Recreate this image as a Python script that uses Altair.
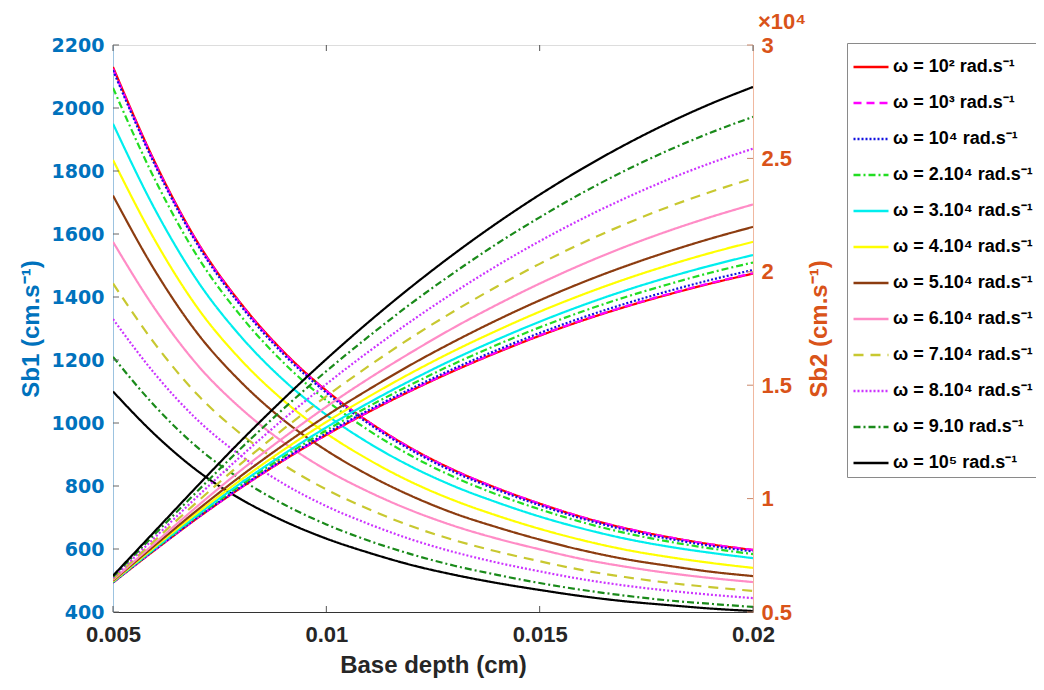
import altair as alt
import pandas as pd

# ---------------- data ----------------
depth = [0.005, 0.006, 0.007, 0.008, 0.009, 0.010, 0.011, 0.012,
         0.013, 0.014, 0.015, 0.016, 0.017, 0.018, 0.019, 0.020]

series = ["ω = 10² rad.s⁻¹", "ω = 10³ rad.s⁻¹", "ω = 10⁴ rad.s⁻¹",
          "ω = 2.10⁴ rad.s⁻¹", "ω = 3.10⁴ rad.s⁻¹", "ω = 4.10⁴ rad.s⁻¹",
          "ω = 5.10⁴ rad.s⁻¹", "ω = 6.10⁴ rad.s⁻¹", "ω = 7.10⁴ rad.s⁻¹",
          "ω = 8.10⁴ rad.s⁻¹", "ω = 9.10 rad.s⁻¹", "ω = 10⁵ rad.s⁻¹"]

# Sb1 (cm/s), left axis
sb1_1e2 = [2130, 1823, 1570, 1379, 1226, 1103, 1003, 919, 850, 793, 744, 701, 666, 638, 615, 597]
sb1_1e3 = [2125, 1819, 1567, 1376, 1223, 1101, 1002, 918, 849, 793, 744, 701, 666, 638, 615, 597]
sb1_1e4 = [2120, 1814, 1562, 1371, 1218, 1096, 997, 913, 844, 788, 739, 696, 661, 633, 610, 592]
sb1_2e4 = [2064, 1768, 1524, 1339, 1191, 1072, 976, 895, 828, 773, 726, 685, 651, 624, 602, 584]
sb1_3e4 = [1950, 1674, 1447, 1274, 1136, 1026, 936, 861, 799, 748, 703, 665, 633, 608, 588, 571]
sb1_4e4 = [1835, 1576, 1362, 1200, 1071, 967, 883, 812, 754, 706, 664, 628, 598, 575, 556, 540]
sb1_5e4 = [1722, 1480, 1281, 1130, 1009, 913, 834, 768, 713, 669, 630, 596, 568, 547, 528, 514]
sb1_6e4 = [1575, 1359, 1181, 1046, 938, 851, 781, 722, 673, 633, 599, 568, 544, 524, 508, 495]
sb1_7e4 = [1443, 1248, 1087, 965, 867, 789, 726, 672, 628, 592, 561, 533, 511, 493, 479, 467]
sb1_8e4 = [1330, 1153, 1007, 896, 807, 736, 679, 630, 590, 557, 529, 504, 484, 468, 455, 444]
sb1_9e4 = [1210, 1051, 920, 821, 742, 678, 626, 583, 547, 518, 492, 470, 452, 437, 426, 416]
sb1_1e5 = [1100, 961, 846, 758, 689, 633, 588, 549, 518, 492, 470, 450, 434, 422, 411, 403]

# Sb2 (x 10^4 cm/s), right axis
sb2_1e2 = [0.630, 0.776, 0.917, 1.048, 1.169, 1.281, 1.383, 1.477, 1.564, 1.644, 1.718, 1.785, 1.845, 1.899, 1.948, 1.992]
sb2_1e3 = [0.630, 0.777, 0.918, 1.049, 1.170, 1.282, 1.385, 1.479, 1.566, 1.646, 1.720, 1.787, 1.847, 1.901, 1.950, 1.994]
sb2_1e4 = [0.631, 0.778, 0.920, 1.052, 1.174, 1.288, 1.391, 1.486, 1.574, 1.655, 1.730, 1.798, 1.859, 1.914, 1.964, 2.008]
sb2_2e4 = [0.632, 0.781, 0.926, 1.060, 1.185, 1.301, 1.407, 1.504, 1.595, 1.678, 1.755, 1.825, 1.888, 1.944, 1.996, 2.041]
sb2_3e4 = [0.633, 0.784, 0.931, 1.069, 1.196, 1.314, 1.423, 1.523, 1.616, 1.701, 1.780, 1.852, 1.917, 1.975, 2.027, 2.074]
sb2_4e4 = [0.635, 0.790, 0.941, 1.083, 1.215, 1.338, 1.450, 1.555, 1.652, 1.741, 1.824, 1.899, 1.967, 2.028, 2.083, 2.132]
sb2_5e4 = [0.638, 0.797, 0.953, 1.100, 1.237, 1.365, 1.482, 1.592, 1.693, 1.787, 1.874, 1.953, 2.024, 2.088, 2.146, 2.198]
sb2_6e4 = [0.641, 0.807, 0.970, 1.125, 1.269, 1.405, 1.530, 1.646, 1.755, 1.855, 1.948, 2.033, 2.110, 2.179, 2.241, 2.297]
sb2_7e4 = [0.645, 0.819, 0.990, 1.154, 1.307, 1.451, 1.585, 1.711, 1.827, 1.935, 2.035, 2.127, 2.210, 2.285, 2.352, 2.412]
sb2_8e4 = [0.650, 0.832, 1.013, 1.187, 1.351, 1.505, 1.649, 1.784, 1.910, 2.027, 2.135, 2.234, 2.324, 2.406, 2.479, 2.543]
sb2_9e4 = [0.655, 0.847, 1.037, 1.222, 1.397, 1.562, 1.716, 1.862, 1.997, 2.124, 2.240, 2.348, 2.446, 2.534, 2.613, 2.683]
sb2_1e5 = [0.660, 0.860, 1.060, 1.255, 1.440, 1.615, 1.780, 1.935, 2.080, 2.215, 2.340, 2.455, 2.560, 2.655, 2.740, 2.815]

left_ticks = [400, 600, 800, 1000, 1200, 1400, 1600, 1800, 2000, 2200]
right_ticks = [0.5, 1, 1.5, 2, 2.5, 3]
x_ticks = [0.005, 0.01, 0.015, 0.02]

# ---------------- styles ----------------
colors = ["#ff0000", "#ff00ff", "#1010e0", "#22dd22", "#00eeee", "#ffff00",
          "#8c3c10", "#ff8cc6", "#c8c830", "#cc33ff", "#1a8a1a", "#000000"]
dashes = [[1, 0], [8, 5], [2, 2], [7, 3, 2, 3], [1, 0], [1, 0],
          [1, 0], [1, 0], [10, 7], [2, 2], [7, 3, 2, 3], [1, 0]]

BLUE = "#0072BD"
ORANGE = "#D95319"
FONT_N = "Liberation Sans, Arial, sans-serif"

sb1_all = [sb1_1e2, sb1_1e3, sb1_1e4, sb1_2e4, sb1_3e4, sb1_4e4,
           sb1_5e4, sb1_6e4, sb1_7e4, sb1_8e4, sb1_9e4, sb1_1e5]
sb2_all = [sb2_1e2, sb2_1e3, sb2_1e4, sb2_2e4, sb2_3e4, sb2_4e4,
           sb2_5e4, sb2_6e4, sb2_7e4, sb2_8e4, sb2_9e4, sb2_1e5]

rows1, rows2 = [], []
for i, name in enumerate(series):
    for d, v in zip(depth, sb1_all[i]):
        rows1.append({"depth": d, "value": v, "series": name, "order": i})
    for d, v in zip(depth, sb2_all[i]):
        rows2.append({"depth": d, "value": v, "series": name, "order": i})
df1 = pd.DataFrame(rows1)
df2 = pd.DataFrame(rows2)
df_lt = pd.DataFrame({"value": left_ticks})
df_rt = pd.DataFrame({"value": right_ticks})
df_xt = pd.DataFrame({"depth": x_ticks})

W, H = 640, 567

legend = alt.Legend(
    title=None, orient="none", legendX=734, legendY=-2,
    symbolType="stroke", symbolSize=1225, symbolStrokeWidth=2.5,
    labelFont=FONT_N, labelFontSize=18, labelFontWeight="bold",
    labelColor="black", labelLimit=400, labelOffset=3,
    strokeColor="#8a8a8a", fillColor="white", padding=5, rowPadding=8,
)

color_enc = alt.Color("series:N", scale=alt.Scale(domain=series, range=colors), legend=legend)
dash_enc = alt.StrokeDash("series:N", scale=alt.Scale(domain=series, range=dashes), legend=legend)

x_axis = alt.Axis(values=x_ticks, format="~g", title="Base depth (cm)",
                  labelFont=FONT_N, labelFontSize=22, labelFontWeight="bold",
                  labelColor="#262626", labelPadding=12, ticks=False,
                  domainColor="#333333", labelFlush=False,
                  titleFont=FONT_N, titleFontSize=24, titleFontWeight="bold",
                  titleColor="#262626", titlePadding=8, grid=False)
y1_axis = alt.Axis(orient="left", values=left_ticks, format="d", title="Sb1 (cm.s⁻¹)",
                   labelFont="DejaVu Sans", labelFontSize=19, labelFontWeight="bold",
                   labelColor=BLUE, labelPadding=9, ticks=False,
                   domainColor="#9cc3e0", grid=False,
                   titleFont=FONT_N, titleFontSize=24, titleFontWeight="bold",
                   titleColor=BLUE, titlePadding=8)
y2_axis = alt.Axis(orient="right", values=right_ticks, format="~g", title="Sb2 (cm.s⁻¹)",
                   labelFont=FONT_N, labelFontSize=22, labelFontWeight="bold",
                   labelColor=ORANGE, labelPadding=8, ticks=False,
                   domainColor="#f0b8a0", grid=False,
                   titleFont=FONT_N, titleFontSize=24, titleFontWeight="bold",
                   titleColor=ORANGE, titleAngle=270, titlePadding=40)

x_scale = alt.Scale(domain=[0.005, 0.02], nice=False, zero=False)
y1_scale = alt.Scale(domain=[400, 2200], nice=False, zero=False)
y2_scale = alt.Scale(domain=[0.5, 3], nice=False, zero=False)

X = alt.X("depth:Q", scale=x_scale, axis=x_axis)
Y1 = alt.Y("value:Q", scale=y1_scale, axis=y1_axis)
Y2 = alt.Y("value:Q", scale=y2_scale, axis=y2_axis)

sb1_lines = alt.Chart(df1).mark_line(strokeWidth=2.2, clip=True, interpolate="monotone").encode(
    x=X, y=Y1, color=color_enc, strokeDash=dash_enc, order="order:Q")

# inward tick marks (MATLAB style)
left_tk = alt.Chart(df_lt).mark_rule(color="#666666", strokeWidth=1).encode(
    y=Y1, x=alt.value(0), x2=alt.value(6))
bottom_tk = alt.Chart(df_xt).mark_rule(color="#555555", strokeWidth=1).encode(
    x=X, y=alt.value(H), y2=alt.value(H - 6))
top_tk = alt.Chart(df_xt).mark_rule(color="#555555", strokeWidth=1).encode(
    x=X, y=alt.value(0), y2=alt.value(6))

sb2_lines = alt.Chart(df2).mark_line(strokeWidth=2.2, clip=True, interpolate="monotone").encode(
    x=X, y=Y2, color=color_enc, strokeDash=dash_enc, order="order:Q")
right_tk = alt.Chart(df_rt).mark_rule(color="#c8876a", strokeWidth=1).encode(
    y=Y2, x=alt.value(W - 6), x2=alt.value(W))

exp_txt = alt.Chart(pd.DataFrame({"t": ["×10⁴"]})).mark_text(
    align="left", baseline="alphabetic", font=FONT_N, fontSize=22, fontWeight="bold",
    color=ORANGE,
).encode(text="t:N", x=alt.value(645), y=alt.value(-16))

layer1 = alt.layer(sb1_lines, left_tk, bottom_tk, top_tk)
layer2 = alt.layer(sb2_lines, right_tk)

chart = alt.layer(layer1, layer2, exp_txt).resolve_scale(y="independent").properties(
    width=W, height=H,
    autosize=alt.AutoSizeParams(type="none"),
    padding={"left": 105, "top": 37, "right": 283, "bottom": 66},
).configure_view(stroke="#555555", strokeWidth=1).configure(background="white")

chart.save("out.html", embed_options={"renderer": "svg", "actions": False})
